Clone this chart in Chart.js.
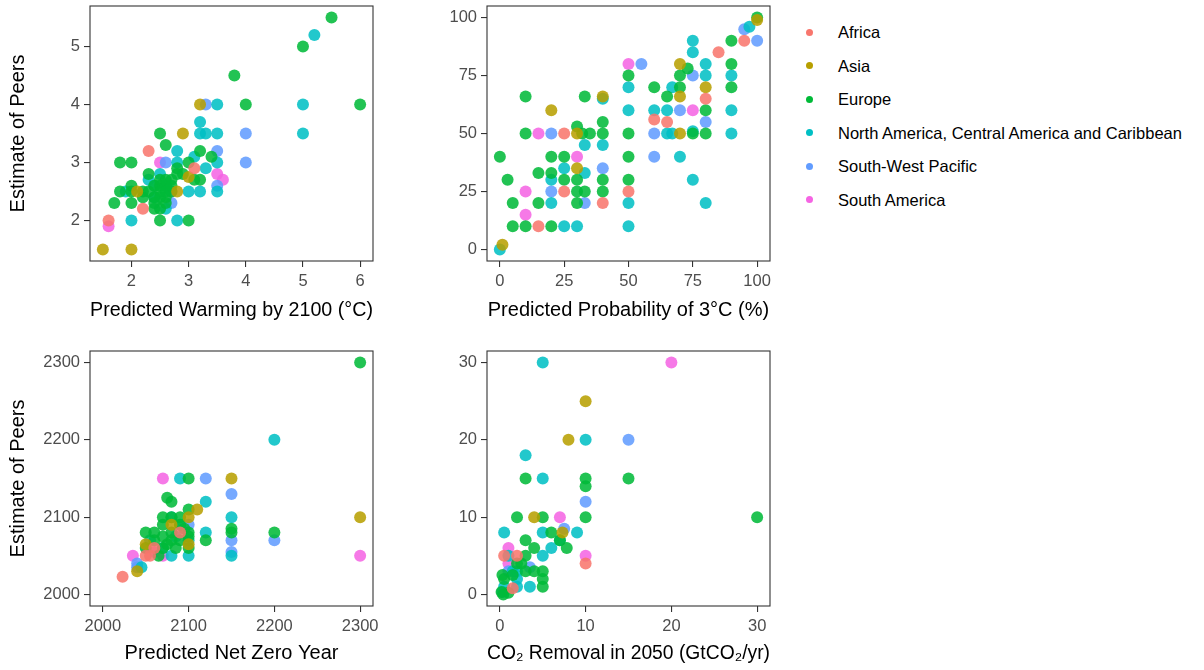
<!DOCTYPE html>
<html>
<head>
<meta charset="utf-8">
<script src="https://cdn.jsdelivr.net/npm/chart.js@4/dist/chart.umd.min.js"></script>
<style>
  body { margin:0; width:1204px; height:670px; background:#fff; position:relative; overflow:hidden;
         font-family:"Liberation Sans", Arial, sans-serif; }
  canvas { position:absolute; }
  .key { position:absolute; left:806px; height:20px; font-size:16.5px; color:#000; line-height:20px; }
  .key i { position:absolute; left:0; top:6.5px; width:7px; height:7px; border-radius:50%; }
  .key span { position:absolute; left:32px; top:0; white-space:nowrap; }
</style>
</head>
<body>
<canvas id="p1" width="390" height="330" style="left:0;top:0"></canvas>
<canvas id="p2" width="390" height="330" style="left:400px;top:0"></canvas>
<canvas id="p3" width="390" height="330" style="left:0;top:340px"></canvas>
<canvas id="p4" width="390" height="330" style="left:400px;top:340px"></canvas>
<div id="legend"></div>
<script>
/* ---------------- Data ---------------- */
const regions = ['Africa', 'Asia', 'Europe', 'North America, Central America and Caribbean', 'South-West Pacific', 'South America'];
const regionColors = ['#F8766D', '#B79F00', '#00BA38', '#00BFC4', '#619CFF', '#F564E3'];

// [region index, own estimate, estimate of peers]
const warmingPts = [
  [0,2.3,3.2],[0,3.1,2.9],[0,2.2,2.2],[0,1.6,2.0],
  [1,3.2,4],[1,2.9,3.5],[1,3.0,2.75],[1,2.1,2.5],[1,2.8,2.5],[1,1.5,1.5],[1,2.0,1.5],
  [3,5.2,5.2],[3,5,4],[3,5,3.5],[3,3.5,4],[3,3.2,3.7],[3,3.2,3.5],[3,3.3,3.5],[3,3.5,3.5],[3,2.8,3.2],[3,3.1,3.1],
  [3,2.8,3],[3,3.5,3],[3,3.3,2.9],[3,2.3,2.7],[3,2.5,2.8],[3,3,2.5],[3,3.2,2.5],[3,3.5,2.5],[3,1.9,2.5],[3,2.6,2.2],
  [3,2.8,2.0],[3,2.0,2.0],[3,2.4,2.4],[3,2.6,2.6],[3,2.4,2.6],
  [4,3.3,4],[4,4,3.5],[4,4,3],[4,3.5,3.2],[4,2.6,3],[4,3.5,2.6],[4,2.7,2.3],
  [5,2.5,3],[5,3.5,2.8],[5,3.6,2.7],[5,1.6,1.9],[5,2.7,2.5],
  [2,5.5,5.5],[2,5,5],[2,3.8,4.5],[2,4,4],[2,6,4],[2,2.5,3.5],[2,2.6,3.3],[2,3.2,3.2],[2,3.4,3.1],[2,1.8,3],[2,2,3],
  [2,3,3],[2,2.3,2.8],[2,2.8,2.8],[2,3.1,2.7],[2,3.2,2.7],[2,2.7,2.7],[2,1.8,2.5],[2,2,2.6],[2,2,2.5],[2,1.7,2.3],
  [2,2,2.3],[2,2.5,2.0],[2,3,2.0],[2,2.4,2.6],[2,2.5,2.6],[2,2.6,2.6],[2,2.5,2.5],[2,2.6,2.5],[2,2.4,2.4],[2,2.5,2.4],
  [2,2.6,2.4],[2,2.7,2.5],[2,2.4,2.3],[2,2.6,2.3],[2,2.5,2.7],[2,2.6,2.7],[2,2.7,2.6],[2,2.2,2.5],[2,2.3,2.5],
  [2,2.4,2.2],[2,2.5,2.2],[2,2.2,2.4],[2,2.8,2.9],[2,2.9,2.8]
];
const probPts = [
  [0,15,10],[0,25,50],[0,25,25],[0,40,20],[0,50,25],[0,60,56],[0,65,55],[0,80,65],[0,85,85],[0,95,90],
  [1,1,2],[1,20,60],[1,30,50],[1,30,35],[1,40,66],[1,70,80],[1,70,66],[1,70,50],[1,80,70],
  [2,0,40],[2,3,30],[2,5,20],[2,5,10],[2,10,66],[2,10,50],[2,10,10],[2,15,33],[2,15,20],[2,20,40],[2,20,33],
  [2,20,10],[2,25,40],[2,25,30],[2,30,53],[2,30,30],[2,30,25],[2,30,20],[2,32,50],[2,35,50],[2,33,66],[2,33,25],
  [2,40,55],[2,40,50],[2,40,30],[2,40,25],[2,50,75],[2,50,50],[2,50,40],[2,50,30],[2,60,70],[2,65,66],[2,70,75],
  [2,70,70],[2,73,78],[2,75,50],[2,80,60],[2,80,50],[2,90,90],[2,90,80],[2,90,70],[2,100,100],
  [3,0,0],[3,20,30],[3,20,20],[3,25,35],[3,25,10],[3,30,10],[3,33,45],[3,33,33],[3,40,65],[3,40,45],[3,50,70],
  [3,50,60],[3,50,20],[3,50,10],[3,60,60],[3,65,60],[3,65,50],[3,67,50],[3,67,70],[3,70,40],[3,75,90],[3,75,85],
  [3,75,51],[3,75,30],[3,80,80],[3,80,75],[3,80,20],[3,90,75],[3,90,60],[3,90,50],[3,97,96],
  [4,20,50],[4,20,25],[4,33,20],[4,40,35],[4,55,80],[4,60,50],[4,60,40],[4,70,60],[4,75,75],[4,80,55],[4,95,95],[4,100,90],
  [5,10,25],[5,10,15],[5,15,50],[5,30,40],[5,50,80],[5,75,60],
  [1,100,99]
];
const netZeroPts = [
  [0,2023,2023],[0,2050,2050],[0,2060,2060],[0,2090,2080],[0,2055,2050],
  [1,2040,2030],[1,2050,2065],[1,2080,2090],[1,2100,2100],[1,2110,2110],[1,2150,2150],[1,2300,2100],[1,2100,2065],
  [2,2300,2300],[2,2200,2080],[2,2150,2085],[2,2150,2080],[2,2120,2070],[2,2100,2150],[2,2100,2110],[2,2100,2080],
  [2,2100,2075],[2,2100,2060],[2,2075,2125],[2,2080,2120],[2,2050,2080],[2,2050,2060],[2,2060,2080],[2,2070,2100],
  [2,2080,2100],[2,2070,2090],[2,2090,2070],[2,2065,2050],[2,2060,2070],[2,2070,2075],[2,2080,2080],[2,2090,2090],
  [2,2075,2065],[2,2085,2060],[2,2070,2060],[2,2090,2100],[2,2080,2070],[2,2095,2085],
  [3,2200,2200],[3,2150,2100],[3,2150,2050],[3,2120,2120],[3,2120,2080],[3,2100,2070],[3,2100,2050],[3,2090,2150],
  [3,2045,2035],[3,2070,2060],[3,2080,2050],[3,2080,2100],[3,2090,2090],[3,2055,2070],[3,2085,2075],
  [4,2200,2070],[4,2150,2130],[4,2150,2070],[4,2150,2055],[4,2120,2150],[4,2100,2090],[4,2040,2040],[4,2040,2035],
  [5,2300,2050],[5,2070,2150],[5,2035,2050],[5,2060,2055],[5,2070,2050]
];
const removalPts = [
  [0,0.5,5],[0,2,5],[0,10,4],[0,1.5,0.8],
  [1,10,25],[1,8,20],[1,4,10],[1,7.3,8],
  [2,3,15],[2,10,15],[2,10,14],[2,15,15],[2,2,10],[2,5,10],[2,10,10],[2,30,10],[2,6,8],[2,3,7],[2,7,7],[2,4,6],
  [2,7.8,6],[2,3,5],[2,2.5,4],[2,3,3],[2,4,3],[2,5,3],[2,5,2],[2,5,1],[2,0.3,2.5],[2,0.5,2],[2,0.4,0],[2,1,0.2],
  [2,1.5,2.5],[2,2,4],[2,0.2,0.3],
  [3,5,30],[3,10,20],[3,3,18],[3,5,15],[3,0.5,8],[3,5,8],[3,9,8],[3,6,6],[3,7,7],[3,1,5],[3,5,5],[3,2,3],[3,2,2],
  [3,3.5,1],[3,0.5,1],[3,2,1],[3,0.3,0.3],[3,1.5,3],
  [4,15,20],[4,10,12],[4,7.5,8.5],[4,1,3],[4,3.5,3.5],
  [5,20,30],[5,7,10],[5,1,6],[5,10,5],[5,1,4]
];

const warmingTicks = [2, 3, 4, 5, 6];
const warmingPeerTicks = [2, 3, 4, 5];
const probTicks = [0, 25, 50, 75, 100];
const yearTicks = [2000, 2100, 2200, 2300];
const removalTicks = [0, 10, 20, 30];

/* ---------------- Panels ---------------- */
const panels = [
  { id:'p1', pts:warmingPts, xt:warmingTicks, yt:warmingPeerTicks, xr:[1.275,6.225], yr:[1.3,5.7],
    xTitle:'Predicted Warming by 2100 (°C)', yTitle:'Estimate of Peers', box:[90,373,6,261], titlePad:8 },
  { id:'p2', pts:probPts, xt:probTicks, yt:probTicks, xr:[-5,105], yr:[-5,105],
    xTitle:'Predicted Probability of 3°C (%)', yTitle:'', box:[87,370,6,261], titlePad:8 },
  { id:'p3', pts:netZeroPts, xt:yearTicks, yt:yearTicks, xr:[1985,2315], yr:[1985,2315],
    xTitle:'Predicted Net Zero Year', yTitle:'Estimate of Peers', box:[90,373,11,266], titlePad:5 },
  { id:'p4', pts:removalPts, xt:removalTicks, yt:removalTicks, xr:[-1.5,31.5], yr:[-1.5,31.5],
    xTitle:'CO\u2082 Removal in 2050 (GtCO\u2082/yr)', yTitle:'', box:[87,370,11,266], titlePad:5 }
];

const frame = {
  id:'frame',
  afterDatasetsDraw(chart) {
    const {ctx, chartArea:a} = chart;
    ctx.save();
    ctx.strokeStyle = '#333';
    ctx.lineWidth = 1.1;
    ctx.strokeRect(a.left, a.top, a.right - a.left, a.bottom - a.top);
    ctx.restore();
  }
};

const fixBox = (size) => (s) => {
  if (s.isHorizontal()) s.height = size; else s.width = size;
  s.paddingTop = s.paddingBottom = s.paddingLeft = s.paddingRight = 0;
};

const tickFont = { family:'"Liberation Sans", Arial, sans-serif', size:16.5 };
const titleFont = { family:'"Liberation Sans", Arial, sans-serif', size:20 };

panels.forEach(p => {
  const [l, r, t, b] = p.box;
  const W = 390, H = 330;
  const datasets = regions.map((name, i) => ({
    label: name,
    data: p.pts.filter(d => d[0] === i).map(d => ({x:d[1], y:d[2]})),
    backgroundColor: regionColors[i] + 'DD',
    borderWidth: 0,
    pointRadius: 6,
    pointHoverRadius: 6
  }));
  const axis = (ticks, range, title, size, pad) => ({
    type:'linear', min:range[0], max:range[1],
    afterBuildTicks: s => { s.ticks = ticks.map(v => ({value:v})); },
    afterFit: fixBox(size),
    grid: { display:true, drawOnChartArea:false, drawTicks:true, tickLength:6, color:'#333', lineWidth:1.1 },
    border: { display:false },
    ticks: { color:'#4D4D4D', font:tickFont, padding:pad, callback: v => String(v), autoSkip:false, maxRotation:0 },
    title: { display: !!title, text: title, color:'#000', font:titleFont, padding:{top:6, bottom:p.titlePad} }
  });
  new Chart(document.getElementById(p.id), {
    type:'scatter',
    data:{ datasets },
    options:{
      responsive:false, animation:false, events:[],
      layout:{ padding:{ left:0, top:t, right:W - r, bottom:0 } },
      plugins:{ legend:{display:false}, tooltip:{enabled:false} },
      scales:{
        x: axis(p.xt, p.xr, p.xTitle, H - b, 5),
        y: axis(p.yt, p.yr, p.yTitle, l, 4)
      }
    },
    plugins:[frame]
  });
});

/* ---------------- Legend ---------------- */
const legend = document.getElementById('legend');
regions.forEach((name, i) => {
  const row = document.createElement('div');
  row.className = 'key';
  row.style.top = (22 + i * 33.5) + 'px';
  row.innerHTML = `<i style="background:${regionColors[i]}"></i><span>${name}</span>`;
  legend.appendChild(row);
});
</script>
</body>
</html>
